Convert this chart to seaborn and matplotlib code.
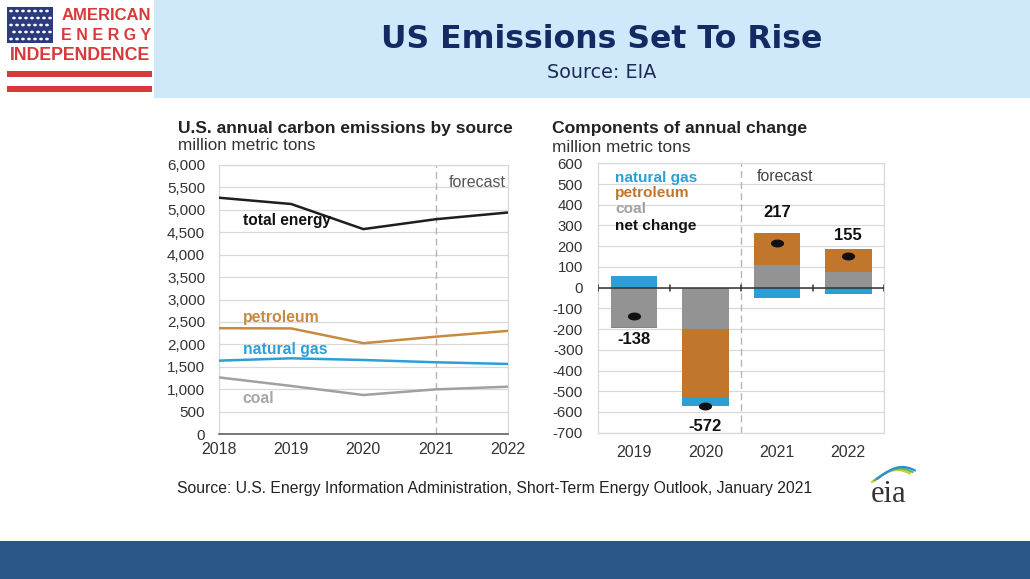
import numpy as np
import pandas as pd
import matplotlib
matplotlib.use("Agg")
import matplotlib.pyplot as plt
from matplotlib.patches import Rectangle
from matplotlib.path import Path
import seaborn as sns

# ---------------- data ----------------
years = [2018, 2019, 2020, 2021, 2022]
total_energy = [5270, 5130, 4570, 4790, 4940]
petroleum = [2360, 2355, 2025, 2170, 2300]
natural_gas = [1636, 1688, 1651, 1600, 1562]
coal = [1262, 1072, 870, 995, 1055]

chg_years = ["2019", "2020", "2021", "2022"]
chg_natural_gas = [55, -42, -48, -32]
chg_petroleum = [-5, -330, 155, 110]
chg_coal = [-188, -200, 110, 77]
net_change = [-138, -572, 217, 155]

left_yticks = list(range(0, 6001, 500))
right_yticks = list(range(-700, 601, 100))

# ---------------- colors ----------------
C_NG = "#2b9fd6"
C_PET = "#c0762c"
C_PET_LINE = "#c68a42"
C_COAL = "#939393"
C_COAL_LINE = "#a0a0a0"
C_TOT = "#1e1e1e"
GRID = "#d9d9d9"
TXT = "#333333"

sns.set_theme(style="white")
plt.rcParams["font.family"] = ["Liberation Sans", "DejaVu Sans"]

W, H = 1030, 579
fig = plt.figure(figsize=(W / 100, H / 100), dpi=100)
fig.patch.set_facecolor("white")

def fx(px):
    return px / W

def fy(py):
    return 1 - py / H

# ---------------- header ----------------
fig.add_artist(Rectangle((fx(154), fy(98)), 1 - fx(154), fy(0) - fy(98),
                         transform=fig.transFigure, facecolor="#cfe9fb", edgecolor="none", zorder=0))
fig.text(fx(602), fy(39), "US Emissions Set To Rise", ha="center", va="center",
         fontsize=22.7, fontweight="bold", color="#142a63", family=["DejaVu Sans"])
fig.text(fx(602), fy(72), "Source: EIA", ha="center", va="center",
         fontsize=13.8, color="#1d2c55", family=["DejaVu Sans"])

# logo
fig.add_artist(Rectangle((fx(7), fy(43)), fx(46), fy(7) - fy(43),
                         transform=fig.transFigure, facecolor="#2c3b7c", edgecolor="none"))
for r in range(5):
    for c in range(7):
        fig.add_artist(plt.Circle((fx(11 + c * 6.0 + (r % 2) * 3), fy(11 + r * 7)), 0.0011,
                                  transform=fig.transFigure, color="white"))
fig.text(fx(106), fy(16), "AMERICAN", ha="center", va="center", fontsize=12,
         fontweight="bold", color="#d8393b")
fig.text(fx(106), fy(36), "E N E R G Y", ha="center", va="center", fontsize=11.5,
         fontweight="bold", color="#d8393b")
fig.text(fx(80), fy(56), "INDEPENDENCE", ha="center", va="center", fontsize=12.8,
         fontweight="bold", color="#d8393b")
for yy in (71, 86):
    fig.add_artist(Rectangle((fx(7), fy(yy + 6)), fx(145), fy(yy) - fy(yy + 6),
                             transform=fig.transFigure, facecolor="#d8393b", edgecolor="none"))

# bottom band
fig.add_artist(Rectangle((0, 0), 1, fy(541), transform=fig.transFigure,
                         facecolor="#2b5786", edgecolor="none"))

# source line
fig.text(fx(177), fy(489), "Source: U.S. Energy Information Administration, Short-Term Energy Outlook, January 2021",
         ha="left", va="center", fontsize=11.3, color="#222222")

# eia logo
fig.text(fx(889), fy(494), "eia", ha="center", va="center", fontsize=22,
         color="#333333", family=["Liberation Serif", "DejaVu Serif"])
t = np.linspace(0, 1, 30)
for col, off in (("#c9c93a", 0), ("#5cb85c", 2.5), ("#2a8fd0", 5)):
    xs = 872 + off + 38 * t
    ys = 482 - off * 0.6 - 12 * np.sin(np.pi * t * 0.75)
    fig.add_artist(plt.Line2D([fx(v) for v in xs], [fy(v) for v in ys],
                              transform=fig.transFigure, color=col, lw=1.6))

# ---------------- left chart ----------------
axL = fig.add_axes([fx(219), fy(434), fx(507.7) - fx(219), fy(165) - fy(434)])
dfL = pd.DataFrame({
    "year": years * 4,
    "value": total_energy + petroleum + natural_gas + coal,
    "source": ["total energy"] * 5 + ["petroleum"] * 5 + ["natural gas"] * 5 + ["coal"] * 5,
})
sns.lineplot(data=dfL, x="year", y="value", hue="source",
             palette={"total energy": C_TOT, "petroleum": C_PET_LINE,
                      "natural gas": C_NG, "coal": C_COAL_LINE},
             linewidth=1.8, legend=False, ax=axL, zorder=3)
axL.set_xlim(2018, 2022)
axL.set_ylim(0, 6000)
axL.set_yticks(left_yticks)
axL.set_yticklabels([f"{v:,}" for v in left_yticks])
axL.set_xticks(years)
axL.set_xticklabels([str(y) for y in years])
axL.yaxis.grid(True, color=GRID, lw=0.9)
axL.set_axisbelow(True)
axL.axvline(2021, color="#b5b5b5", lw=1, ls=(0, (5, 3)), zorder=2)
for s in ("top", "left", "right"):
    axL.spines[s].set_color(GRID)
    axL.spines[s].set_linewidth(0.9)
axL.spines["bottom"].set_color("#555555")
axL.spines["bottom"].set_linewidth(1.1)
axL.tick_params(axis="y", length=0, labelsize=11, labelcolor=TXT, pad=10)
axL.tick_params(axis="x", direction="inout", length=6, color="#555555", width=1,
                labelsize=11.5, labelcolor=TXT, pad=3)
axL.set_xlabel("")
axL.set_ylabel("")
axL.text(2018.33, 4751, "total energy", fontsize=11.2, fontweight="bold", color="#111111", va="center")
axL.text(2018.33, 2588, "petroleum", fontsize=11.4, fontweight="bold", color=C_PET_LINE, va="center")
axL.text(2018.33, 1874, "natural gas", fontsize=11.3, fontweight="bold", color=C_NG, va="center")
axL.text(2018.33, 781, "coal", fontsize=11.3, fontweight="bold", color="#a6a6a6", va="center")
axL.text(2021.18, 5620, "forecast", fontsize=11.5, color="#555555", va="center")
fig.text(fx(178), fy(128), "U.S. annual carbon emissions by source", fontsize=12.5,
         fontweight="bold", color="#222222", va="center")
fig.text(fx(178), fy(146), "million metric tons", fontsize=12.3, color="#333333", va="center")

# ---------------- right chart ----------------
axR = fig.add_axes([fx(598.3), fy(432.7), fx(884) - fx(598.3), fy(163.3) - fy(432.7)])

ng = np.array(chg_natural_gas, float)
pe = np.array(chg_petroleum, float)
co = np.array(chg_coal, float)
pos_c = np.clip(co, 0, None)
pos_p = pos_c + np.clip(pe, 0, None)
pos_n = pos_p + np.clip(ng, 0, None)
neg_c = np.clip(co, None, 0)
neg_p = neg_c + np.clip(pe, None, 0)
neg_n = neg_p + np.clip(ng, None, 0)

for vals, col in ((pos_n, C_NG), (pos_p, C_PET), (pos_c, C_COAL),
                  (neg_n, C_NG), (neg_p, C_PET), (neg_c, C_COAL)):
    sns.barplot(x=chg_years, y=vals, color=col, width=0.65, linewidth=0,
                saturation=1, ax=axR, zorder=2)

ell = Path(np.column_stack([np.cos(np.linspace(0, 2 * np.pi, 40)),
                            0.6 * np.sin(np.linspace(0, 2 * np.pi, 40))]))
sns.stripplot(x=chg_years, y=net_change, jitter=False, color="#111111", marker=ell,
              size=9.5, linewidth=0, ax=axR, zorder=5)

axR.set_xlim(-0.5, 3.5)
axR.set_ylim(-700, 600)
axR.set_yticks(right_yticks)
axR.set_yticklabels([str(v) for v in right_yticks])
axR.yaxis.grid(True, color=GRID, lw=0.9)
axR.set_axisbelow(True)
axR.axhline(0, color="#333333", lw=1.1, zorder=4)
for xb in (-0.5, 0.5, 1.5, 2.5, 3.5):
    axR.plot([xb, xb], [-14, 14], color="#333333", lw=1.1, zorder=4)
axR.axvline(1.5, color="#b5b5b5", lw=1, ls=(0, (5, 3)), zorder=1)
for s in ("top", "left", "right", "bottom"):
    axR.spines[s].set_color(GRID)
    axR.spines[s].set_linewidth(0.9)
axR.tick_params(axis="y", length=0, labelsize=10.8, labelcolor=TXT, pad=11)
axR.tick_params(axis="x", length=0, labelsize=11.5, labelcolor=TXT, pad=9)
axR.set_xlabel("")
axR.set_ylabel("")

label_offsets = [-3, -9, 9, 4]
for i, v in enumerate(net_change):
    extreme = neg_n[i] if v < 0 else pos_n[i]
    off = label_offsets[i]
    axR.annotate(f"{v}", xy=(i, extreme), xytext=(0, off), textcoords="offset points",
                 ha="center", va="top" if off < 0 else "bottom",
                 fontsize=12, fontweight="bold", color="#111111")

axR.text(-0.266, 529, "natural gas", fontsize=11.1, fontweight="bold", color=C_NG, va="center")
axR.text(-0.266, 457, "petroleum", fontsize=11.1, fontweight="bold", color=C_PET, va="center")
axR.text(-0.266, 380, "coal", fontsize=11.1, fontweight="bold", color="#a0a0a0", va="center")
axR.text(-0.266, 297, "net change", fontsize=11.1, fontweight="bold", color="#111111", va="center")
axR.text(1.72, 534, "forecast", fontsize=11.4, color="#444444", va="center")
fig.text(fx(552), fy(129), "Components of annual change", fontsize=12.6,
         fontweight="bold", color="#222222", va="center")
fig.text(fx(552), fy(148), "million metric tons", fontsize=12.4, color="#333333", va="center")

fig.savefig("out.png", dpi=100, facecolor="white")
